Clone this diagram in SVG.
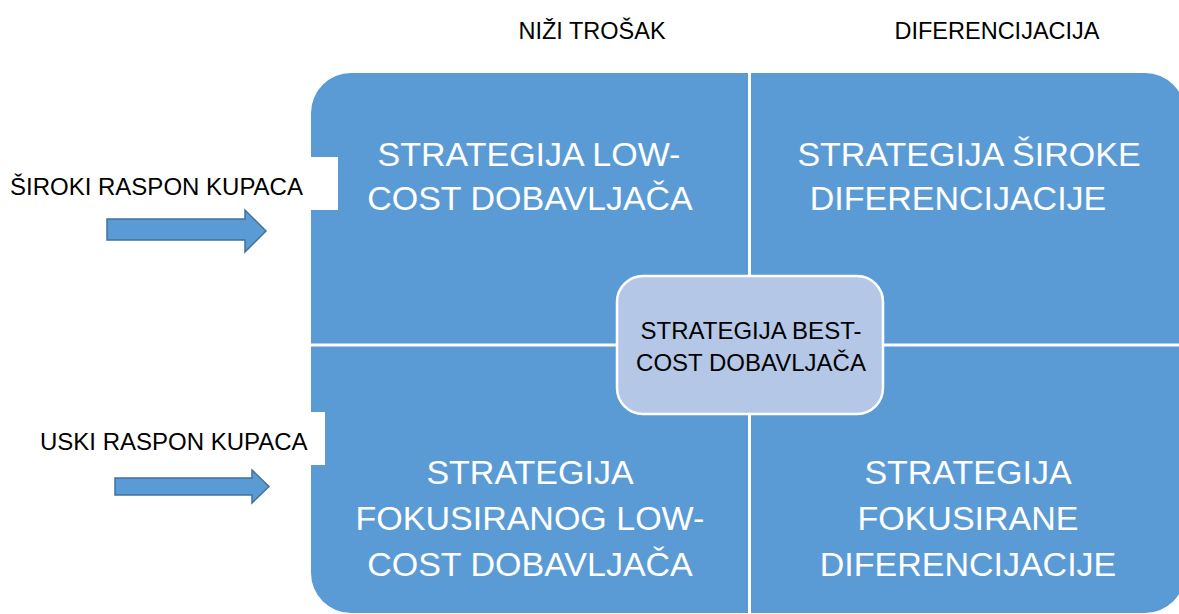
<svg xmlns="http://www.w3.org/2000/svg" width="1179" height="614" viewBox="0 0 1179 614">
<style>
.q{fill:#5B9BD5}
.qt{font-family:"Liberation Sans",Arial,sans-serif;font-size:34px;fill:#fff;text-anchor:middle}
.lbl{font-family:"Liberation Sans",Arial,sans-serif;font-size:24px;fill:#000}
.top{font-family:"Liberation Sans",Arial,sans-serif;font-size:23.5px;fill:#000;text-anchor:middle}
.ct{font-family:"Liberation Sans",Arial,sans-serif;font-size:24px;fill:#000;text-anchor:middle}
.arr{fill:#5B9BD5;stroke:#41719C;stroke-width:1.5}
.div{stroke:#fff;stroke-width:3}
</style>
<rect width="1179" height="614" fill="#fff"/>
<g id="matrix">
<rect class="q" x="311" y="73" width="874" height="540" rx="40" ry="40"/>
<line class="div" x1="749.5" y1="70" x2="749.5" y2="614"/>
<line class="div" x1="311" y1="345" x2="1185" y2="345"/>
</g>
<g id="q-low-cost">
<text class="qt" x="529" y="166">STRATEGIJA LOW-</text>
<text class="qt" x="530" y="210">COST DOBAVLJAČA</text>
</g>
<g id="q-broad-diff">
<text class="qt" x="969" y="166">STRATEGIJA ŠIROKE</text>
<text class="qt" x="958" y="210">DIFERENCIJACIJE</text>
</g>
<g id="q-focus-low-cost">
<text class="qt" x="530" y="484">STRATEGIJA</text>
<text class="qt" x="530" y="530">FOKUSIRANOG LOW-</text>
<text class="qt" x="530" y="576">COST DOBAVLJAČA</text>
</g>
<g id="q-focus-diff">
<text class="qt" x="968" y="484">STRATEGIJA</text>
<text class="qt" x="968" y="530">FOKUSIRANE</text>
<text class="qt" x="968" y="576">DIFERENCIJACIJE</text>
</g>
<g id="best-cost">
<rect x="617" y="276" width="266" height="138" rx="26" ry="26" fill="#B4C7E7" stroke="#fff" stroke-width="2.5"/>
<text class="ct" x="751" y="339">STRATEGIJA BEST-</text>
<text class="ct" x="751" y="371">COST DOBAVLJAČA</text>
</g>
<g id="top-labels">
<text class="top" x="592" y="39">NIŽI TROŠAK</text>
<text class="top" x="997" y="39">DIFERENCIJACIJA</text>
</g>
<g id="label-broad">
<rect x="0" y="157" width="338" height="53" fill="#fff"/>
<text class="lbl" x="10" y="195">ŠIROKI RASPON KUPACA</text>
</g>
<g id="label-narrow">
<rect x="0" y="412" width="325" height="53" fill="#fff"/>
<text class="lbl" x="40" y="450">USKI RASPON KUPACA</text>
</g>
<g id="connectors">
<polygon class="arr" points="107,219 245,219 245,210 266,231 245,252 245,240 107,240"/>
<polygon class="arr" points="115,478 252,478 252,470 269,486.5 252,503 252,495 115,495"/>
</g>
</svg>
